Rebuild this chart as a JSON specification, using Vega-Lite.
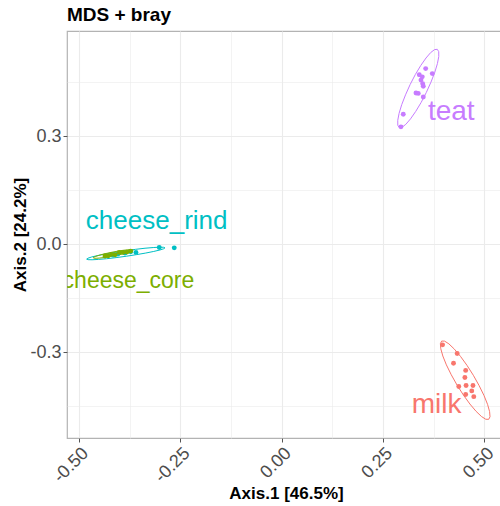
{
  "$schema": "https://vega.github.io/schema/vega-lite/v6.json",
  "autosize": "none",
  "width": 438,
  "height": 407,
  "padding": {"left": 67, "top": 31, "right": 0, "bottom": 68},
  "background": "white",
  "config": {
    "font": "Liberation Sans",
    "view": {"stroke": "#b3b3b3", "strokeWidth": 1.2}
  },
  "title": {"text": "MDS + bray", "anchor": "start", "frame": "group", "fontSize": 19, "fontWeight": "bold", "color": "#000000", "font": "Liberation Sans", "baseline": "alphabetic", "offset": 10, "dy": 19},
  "datasets": {
    "pts": [
      {"group": "teat", "x": 0.3553, "y": 0.488},
      {"group": "teat", "x": 0.3716, "y": 0.474},
      {"group": "teat", "x": 0.3395, "y": 0.471},
      {"group": "teat", "x": 0.3469, "y": 0.465},
      {"group": "teat", "x": 0.3437, "y": 0.456},
      {"group": "teat", "x": 0.3479, "y": 0.446},
      {"group": "teat", "x": 0.3494, "y": 0.439},
      {"group": "teat", "x": 0.3314, "y": 0.420},
      {"group": "teat", "x": 0.3370, "y": 0.419},
      {"group": "teat", "x": 0.3494, "y": 0.409},
      {"group": "teat", "x": 0.3000, "y": 0.361},
      {"group": "teat", "x": 0.2943, "y": 0.326},
      {"group": "milk", "x": 0.397, "y": -0.280},
      {"group": "milk", "x": 0.433, "y": -0.304},
      {"group": "milk", "x": 0.424, "y": -0.331},
      {"group": "milk", "x": 0.454, "y": -0.351},
      {"group": "milk", "x": 0.452, "y": -0.371},
      {"group": "milk", "x": 0.437, "y": -0.396},
      {"group": "milk", "x": 0.455, "y": -0.393},
      {"group": "milk", "x": 0.472, "y": -0.393},
      {"group": "milk", "x": 0.469, "y": -0.408},
      {"group": "milk", "x": 0.454, "y": -0.418},
      {"group": "milk", "x": 0.474, "y": -0.424},
      {"group": "cheese_rind", "x": -0.265, "y": -0.0103},
      {"group": "cheese_rind", "x": -0.302, "y": -0.0092},
      {"group": "cheese_rind", "x": -0.3595, "y": -0.023},
      {"group": "cheese_rind", "x": -0.3726, "y": -0.0214},
      {"group": "cheese_rind", "x": -0.3866, "y": -0.025},
      {"group": "cheese_rind", "x": -0.404, "y": -0.0278},
      {"group": "cheese_rind", "x": -0.416, "y": -0.0306},
      {"group": "cheese_core", "x": -0.428, "y": -0.0325},
      {"group": "cheese_core", "x": -0.4195, "y": -0.0286},
      {"group": "cheese_core", "x": -0.411, "y": -0.0297},
      {"group": "cheese_core", "x": -0.4007, "y": -0.023},
      {"group": "cheese_core", "x": -0.391, "y": -0.023},
      {"group": "cheese_core", "x": -0.3817, "y": -0.0222},
      {"group": "cheese_core", "x": -0.3726, "y": -0.0194},
      {"group": "cheese_core", "x": -0.436, "y": -0.033}
    ],
    "ell": [
      {"group": "teat", "ord": 0, "x": 0.3839, "y": 0.5416},
      {"group": "teat", "ord": 1, "x": 0.3875, "y": 0.5351},
      {"group": "teat", "ord": 2, "x": 0.3876, "y": 0.5215},
      {"group": "teat", "ord": 3, "x": 0.3843, "y": 0.502},
      {"group": "teat", "ord": 4, "x": 0.3778, "y": 0.4778},
      {"group": "teat", "ord": 5, "x": 0.3684, "y": 0.4505},
      {"group": "teat", "ord": 6, "x": 0.357, "y": 0.4219},
      {"group": "teat", "ord": 7, "x": 0.3442, "y": 0.3941},
      {"group": "teat", "ord": 8, "x": 0.3308, "y": 0.369},
      {"group": "teat", "ord": 9, "x": 0.3179, "y": 0.3482},
      {"group": "teat", "ord": 10, "x": 0.3064, "y": 0.3331},
      {"group": "teat", "ord": 11, "x": 0.2969, "y": 0.3249},
      {"group": "teat", "ord": 12, "x": 0.2901, "y": 0.324},
      {"group": "teat", "ord": 13, "x": 0.2865, "y": 0.3305},
      {"group": "teat", "ord": 14, "x": 0.2864, "y": 0.3441},
      {"group": "teat", "ord": 15, "x": 0.2897, "y": 0.3636},
      {"group": "teat", "ord": 16, "x": 0.2962, "y": 0.3878},
      {"group": "teat", "ord": 17, "x": 0.3056, "y": 0.4151},
      {"group": "teat", "ord": 18, "x": 0.317, "y": 0.4437},
      {"group": "teat", "ord": 19, "x": 0.3298, "y": 0.4715},
      {"group": "teat", "ord": 20, "x": 0.3432, "y": 0.4966},
      {"group": "teat", "ord": 21, "x": 0.3561, "y": 0.5174},
      {"group": "teat", "ord": 22, "x": 0.3676, "y": 0.5325},
      {"group": "teat", "ord": 23, "x": 0.3771, "y": 0.5407},
      {"group": "teat", "ord": 24, "x": 0.3839, "y": 0.5416},
      {"group": "milk", "ord": 0, "x": 0.5108, "y": -0.4871},
      {"group": "milk", "ord": 1, "x": 0.5036, "y": -0.4869},
      {"group": "milk", "ord": 2, "x": 0.493, "y": -0.4793},
      {"group": "milk", "ord": 3, "x": 0.4796, "y": -0.4648},
      {"group": "milk", "ord": 4, "x": 0.4644, "y": -0.4445},
      {"group": "milk", "ord": 5, "x": 0.4484, "y": -0.4196},
      {"group": "milk", "ord": 6, "x": 0.4327, "y": -0.3919},
      {"group": "milk", "ord": 7, "x": 0.4184, "y": -0.3632},
      {"group": "milk", "ord": 8, "x": 0.4064, "y": -0.3357},
      {"group": "milk", "ord": 9, "x": 0.3976, "y": -0.311},
      {"group": "milk", "ord": 10, "x": 0.3926, "y": -0.2909},
      {"group": "milk", "ord": 11, "x": 0.3916, "y": -0.2767},
      {"group": "milk", "ord": 12, "x": 0.3948, "y": -0.2695},
      {"group": "milk", "ord": 13, "x": 0.402, "y": -0.2697},
      {"group": "milk", "ord": 14, "x": 0.4126, "y": -0.2773},
      {"group": "milk", "ord": 15, "x": 0.426, "y": -0.2918},
      {"group": "milk", "ord": 16, "x": 0.4412, "y": -0.3121},
      {"group": "milk", "ord": 17, "x": 0.4572, "y": -0.337},
      {"group": "milk", "ord": 18, "x": 0.4729, "y": -0.3647},
      {"group": "milk", "ord": 19, "x": 0.4872, "y": -0.3934},
      {"group": "milk", "ord": 20, "x": 0.4992, "y": -0.4209},
      {"group": "milk", "ord": 21, "x": 0.508, "y": -0.4456},
      {"group": "milk", "ord": 22, "x": 0.513, "y": -0.4657},
      {"group": "milk", "ord": 23, "x": 0.514, "y": -0.4799},
      {"group": "milk", "ord": 24, "x": 0.5108, "y": -0.4871},
      {"group": "cheese_rind", "ord": 0, "x": -0.2879, "y": -0.0103},
      {"group": "cheese_rind", "ord": 1, "x": -0.2909, "y": -0.0128},
      {"group": "cheese_rind", "ord": 2, "x": -0.3003, "y": -0.0163},
      {"group": "cheese_rind", "ord": 3, "x": -0.3155, "y": -0.0203},
      {"group": "cheese_rind", "ord": 4, "x": -0.3353, "y": -0.0248},
      {"group": "cheese_rind", "ord": 5, "x": -0.3585, "y": -0.0293},
      {"group": "cheese_rind", "ord": 6, "x": -0.3835, "y": -0.0337},
      {"group": "cheese_rind", "ord": 7, "x": -0.4085, "y": -0.0375},
      {"group": "cheese_rind", "ord": 8, "x": -0.4319, "y": -0.0406},
      {"group": "cheese_rind", "ord": 9, "x": -0.4521, "y": -0.0425},
      {"group": "cheese_rind", "ord": 10, "x": -0.4677, "y": -0.0435},
      {"group": "cheese_rind", "ord": 11, "x": -0.4775, "y": -0.0432},
      {"group": "cheese_rind", "ord": 12, "x": -0.4811, "y": -0.0417},
      {"group": "cheese_rind", "ord": 13, "x": -0.4781, "y": -0.0392},
      {"group": "cheese_rind", "ord": 14, "x": -0.4687, "y": -0.0357},
      {"group": "cheese_rind", "ord": 15, "x": -0.4535, "y": -0.0317},
      {"group": "cheese_rind", "ord": 16, "x": -0.4337, "y": -0.0272},
      {"group": "cheese_rind", "ord": 17, "x": -0.4105, "y": -0.0227},
      {"group": "cheese_rind", "ord": 18, "x": -0.3855, "y": -0.0183},
      {"group": "cheese_rind", "ord": 19, "x": -0.3605, "y": -0.0145},
      {"group": "cheese_rind", "ord": 20, "x": -0.3371, "y": -0.0114},
      {"group": "cheese_rind", "ord": 21, "x": -0.3169, "y": -0.0095},
      {"group": "cheese_rind", "ord": 22, "x": -0.3013, "y": -0.0085},
      {"group": "cheese_rind", "ord": 23, "x": -0.2915, "y": -0.0088},
      {"group": "cheese_rind", "ord": 24, "x": -0.2879, "y": -0.0103},
      {"group": "cheese_core", "ord": 0, "x": -0.3662, "y": -0.0167},
      {"group": "cheese_core", "ord": 1, "x": -0.3677, "y": -0.0185},
      {"group": "cheese_core", "ord": 2, "x": -0.3723, "y": -0.0208},
      {"group": "cheese_core", "ord": 3, "x": -0.38, "y": -0.0236},
      {"group": "cheese_core", "ord": 4, "x": -0.39, "y": -0.0267},
      {"group": "cheese_core", "ord": 5, "x": -0.4018, "y": -0.0298},
      {"group": "cheese_core", "ord": 6, "x": -0.4146, "y": -0.0328},
      {"group": "cheese_core", "ord": 7, "x": -0.4274, "y": -0.0354},
      {"group": "cheese_core", "ord": 8, "x": -0.4394, "y": -0.0375},
      {"group": "cheese_core", "ord": 9, "x": -0.4498, "y": -0.0388},
      {"group": "cheese_core", "ord": 10, "x": -0.4577, "y": -0.0394},
      {"group": "cheese_core", "ord": 11, "x": -0.4629, "y": -0.0391},
      {"group": "cheese_core", "ord": 12, "x": -0.4648, "y": -0.0381},
      {"group": "cheese_core", "ord": 13, "x": -0.4633, "y": -0.0363},
      {"group": "cheese_core", "ord": 14, "x": -0.4587, "y": -0.034},
      {"group": "cheese_core", "ord": 15, "x": -0.451, "y": -0.0312},
      {"group": "cheese_core", "ord": 16, "x": -0.441, "y": -0.0281},
      {"group": "cheese_core", "ord": 17, "x": -0.4292, "y": -0.025},
      {"group": "cheese_core", "ord": 18, "x": -0.4164, "y": -0.022},
      {"group": "cheese_core", "ord": 19, "x": -0.4036, "y": -0.0194},
      {"group": "cheese_core", "ord": 20, "x": -0.3916, "y": -0.0173},
      {"group": "cheese_core", "ord": 21, "x": -0.3812, "y": -0.016},
      {"group": "cheese_core", "ord": 22, "x": -0.3733, "y": -0.0154},
      {"group": "cheese_core", "ord": 23, "x": -0.3681, "y": -0.0157},
      {"group": "cheese_core", "ord": 24, "x": -0.3662, "y": -0.0167}
    ],
    "labels": [
      {"group": "teat", "x": 0.4185, "y": 0.3464},
      {"group": "milk", "x": 0.3824, "y": -0.4703},
      {"group": "cheese_rind", "x": -0.3084, "y": 0.0408},
      {"group": "cheese_core", "x": -0.378, "y": -0.122}
    ]
  },
  "encoding": {
    "x": {
      "field": "x", "type": "quantitative",
      "scale": {"domain": [-0.5296, 0.551], "nice": false, "zero": false},
      "axis": {
        "title": "Axis.1 [46.5%]",
        "values": [-0.5, -0.375, -0.25, -0.125, 0, 0.125, 0.25, 0.375, 0.5],
        "labelExpr": "abs(datum.value*4 - round(datum.value*4)) < 0.01 ? replace(format(datum.value, '.2f'), '\u2212', '-') : ''",
        "labelAngle": -45, "labelAlign": "right", "labelBaseline": "top",
        "labelFontSize": 18, "labelColor": "#4D4D4D", "labelPadding": 2,
        "labelFont": "Liberation Sans", "labelOverlap": false, "labelFlush": false,
        "tickSize": 4, "tickColor": "#555555",
        "tickOpacity": {"condition": {"test": "abs(datum.value*4 - round(datum.value*4)) > 0.01", "value": 0}, "value": 1},
        "grid": true, "gridColor": "#EBEBEB",
        "gridWidth": {"condition": {"test": "abs(datum.value*4 - round(datum.value*4)) > 0.01", "value": 0.6}, "value": 1.1},
        "domain": false,
        "titleFont": "Liberation Sans", "titleFontSize": 17, "titleFontWeight": "bold", "titleColor": "#000000",
        "titleBaseline": "alphabetic", "titleY": 60
      }
    },
    "y": {
      "field": "y", "type": "quantitative",
      "scale": {"domain": [-0.539, 0.5925], "nice": false, "zero": false},
      "axis": {
        "title": "Axis.2 [24.2%]",
        "values": [-0.45, -0.3, -0.15, 0, 0.15, 0.3, 0.45],
        "labelExpr": "abs(datum.value/0.3 - round(datum.value/0.3)) < 0.01 ? replace(format(datum.value, '.1f'), '\u2212', '-') : ''",
        "labelFontSize": 18, "labelColor": "#4D4D4D", "labelPadding": 2,
        "labelFont": "Liberation Sans", "labelOverlap": false, "labelFlush": false,
        "tickSize": 4, "tickColor": "#555555",
        "tickOpacity": {"condition": {"test": "abs(datum.value/0.3 - round(datum.value/0.3)) > 0.01", "value": 0}, "value": 1},
        "grid": true, "gridColor": "#EBEBEB",
        "gridWidth": {"condition": {"test": "abs(datum.value/0.3 - round(datum.value/0.3)) > 0.01", "value": 0.6}, "value": 1.1},
        "domain": false,
        "titleFont": "Liberation Sans", "titleFontSize": 17, "titleFontWeight": "bold", "titleColor": "#000000",
        "titleBaseline": "alphabetic", "titleX": -41.5
      }
    },
    "color": {
      "field": "group", "type": "nominal",
      "scale": {"domain": ["cheese_core", "cheese_rind", "milk", "teat"], "range": ["#7CAE00", "#00BFC4", "#F8766D", "#C77CFF"]},
      "legend": null
    }
  },
  "layer": [
    {
      "data": {"name": "ell"},
      "mark": {"type": "line", "strokeWidth": 1, "clip": true},
      "encoding": {"order": {"field": "ord", "type": "quantitative"}, "detail": {"field": "group"}}
    },
    {
      "data": {"name": "pts"},
      "mark": {"type": "circle", "size": 24, "opacity": 1, "clip": true}
    },
    {
      "data": {"name": "labels"},
      "transform": [{"filter": "datum.group == 'cheese_core'"}],
      "mark": {"type": "text", "font": "Liberation Sans", "fontSize": 23, "baseline": "alphabetic", "align": "center", "clip": true},
      "encoding": {"text": {"field": "group"}}
    },
    {
      "data": {"name": "labels"},
      "transform": [{"filter": "datum.group == 'cheese_rind'"}],
      "mark": {"type": "text", "font": "Liberation Sans", "fontSize": 26, "baseline": "alphabetic", "align": "center", "clip": true},
      "encoding": {"text": {"field": "group"}}
    },
    {
      "data": {"name": "labels"},
      "transform": [{"filter": "datum.group == 'milk' || datum.group == 'teat'"}],
      "mark": {"type": "text", "font": "Liberation Sans", "fontSize": 28, "baseline": "alphabetic", "align": "center", "clip": true},
      "encoding": {"text": {"field": "group"}}
    }
  ]
}
